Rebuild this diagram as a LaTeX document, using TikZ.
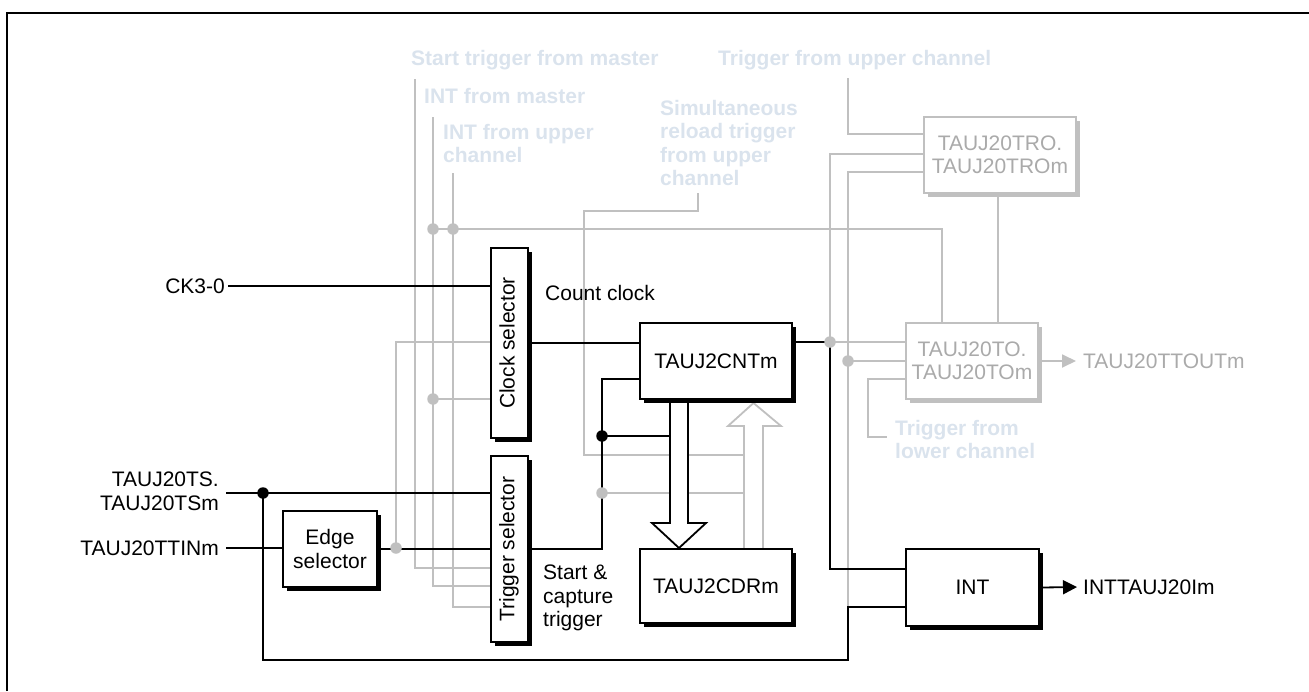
\documentclass[tikz,border=0pt]{standalone}
\usepackage{fontspec}
\setmainfont{Liberation Sans}
\usetikzlibrary{shadows,arrows.meta,calc}
\definecolor{gline}{RGB}{192,192,192}
\definecolor{glabel}{RGB}{218,227,237}
\definecolor{gtext}{RGB}{170,170,170}
\pgfdeclarelayer{bg}
\pgfsetlayers{bg,main}
\begin{document}
\begin{tikzpicture}[x=1pt,y=-1pt,
  font=\fontsize{21}{23.5}\selectfont,
  blk/.style={draw=black,line width=1.8pt,fill=white,inner sep=0pt,align=center,
     drop shadow={shadow xshift=3.5pt,shadow yshift=-3.5pt,opacity=1,fill=black}},
  gbox/.style={draw=gline,line width=1.8pt,fill=white,inner sep=0pt,text=gtext,align=center,
     drop shadow={shadow xshift=3.5pt,shadow yshift=-3.5pt,opacity=1,fill=gline}},
  wire/.style={line width=1.8pt,draw=black},
  gwire/.style={line width=1.8pt,draw=gline},
  glbl/.style={text=glabel,font=\fontsize{21}{23.5}\selectfont\bfseries,inner sep=0pt,align=left},
  lbl/.style={inner sep=0pt},
  bdot/.style={circle,fill=black,inner sep=0pt,minimum size=11.5pt},
  gdot/.style={circle,fill=gline,inner sep=0pt,minimum size=11.5pt},
]
\useasboundingbox (0,0) rectangle (1309,691);
\draw[line width=2pt] (7,691) -- (7,13) -- (1309,13);

% boxes
\node[blk,minimum width=37pt,minimum height=190pt] (clk) at (509.5,343) {};
\node[blk,minimum width=37pt,minimum height=186pt] (trg) at (509.5,549) {};
\node[blk,minimum width=94pt,minimum height=76pt] (edge) at (330,549) {Edge\\selector};
\node[blk,minimum width=152pt,minimum height=76pt] (cnt) at (716,361) {TAUJ2CNTm};
\node[blk,minimum width=152pt,minimum height=74pt] (cdr) at (716,586) {TAUJ2CDRm};
\node[blk,minimum width=133pt,minimum height=77pt] (int) at (972.5,587.5) {INT};
\node[gbox,minimum width=132pt,minimum height=76pt] (to) at (972,361) {TAUJ20TO.\\TAUJ20TOm};
\node[gbox,minimum width=152pt,minimum height=76pt] (tro) at (1000,155) {TAUJ20TRO.\\TAUJ20TROm};
\node[lbl,rotate=90] (clkT) at (507,343) {Clock selector};
\node[lbl,rotate=90] (trgT) at (509,549) {Trigger selector};

% labels
\node[lbl,anchor=east] (ck) at (225,286) {CK3-0};
\node[lbl,anchor=north east,align=right] (ts) at (219,472) {TAUJ20TS.\\TAUJ20TSm};
\node[lbl,anchor=east] (ttin) at (219,548) {TAUJ20TTINm};
\node[lbl,anchor=west] (cc) at (545,293) {Count clock};
\node[lbl,anchor=north west,align=left] (sct) at (543,565) {Start \&\\capture\\trigger};
\node[lbl,anchor=west] (intout) at (1083,587) {INTTAUJ20Im};
\node[lbl,anchor=west,text=gtext] (ttout) at (1083,361) {TAUJ20TTOUTm};

\node[glbl,anchor=north west] (lStm) at (411,50) {Start trigger from master};
\node[glbl,anchor=north west] (lIm) at (424,88) {INT from master};
\node[glbl,anchor=north west] (lIu) at (443,124) {INT from upper\\channel};
\node[glbl,anchor=north west] (lSim) at (660,100) {Simultaneous\\reload trigger\\from upper\\channel};
\node[glbl,anchor=north west] (lTu) at (718,50) {Trigger from upper channel};
\node[glbl,anchor=north west] (lTl) at (895,420) {Trigger from\\lower channel};

% coordinates
\coordinate (sStm) at (415,79);
\coordinate (sIm) at (433,117);
\coordinate (sIu) at (453,173);
\coordinate (jIm1) at (433,229);
\coordinate (jIu) at (453,229);
\coordinate (jIm2) at (433,399);
\coordinate (sSim) at (698,193);
\coordinate (sTu) at (848,78);
\coordinate (jEdge) at (396,548);
\coordinate (jTrg) at (602,493);
\coordinate (jB) at (830,342);
\coordinate (jC) at (848,361);
\coordinate (jInt2) at (848,607);
\coordinate (eTl) at (887,437);
\coordinate (sTs) at (226,493);
\coordinate (jTs) at (263,493);
\coordinate (jA) at (602,436);
\coordinate (cTurn) at (602,379);
\coordinate (bot) at (263,660);

\begin{pgfonlayer}{bg}
% gray wires
\draw[gwire] (sStm) |- (trg.west |- 0,568);
\draw[gwire] (sIm) |- (trg.west |- 0,586);
\draw[gwire] (sIu) |- (trg.west |- 0,607);
\draw[gwire] (jIm1) -| (to.north -| 942,0);
\draw[gwire] (jIm2) -- (jIm2 -| clk.west);
\draw[gwire] (jEdge) |- (clk.west |- 0,342);
\draw[gwire] (sSim) |- (584,211) |- (744,455);
\draw[gwire] (jTrg) -- (744,493);
\draw[gwire] (jB) -- (jB -| to.west);
\draw[gwire] (jB) |- (tro.west |- 0,154);
\draw[gwire] (jInt2) |- (tro.west |- 0,172);
\draw[gwire] (jC) -- (jC -| to.west);
\draw[gwire] (sTu) |- (tro.west |- 0,134);
\draw[gwire] (tro.south -| 998,0) -- (to.north -| 998,0);
\draw[gwire] (to.west |- 0,379) -| (868,437) -- (eTl);
\draw[gwire,-{Triangle[length=14pt,width=13pt]},shorten >=7pt] (to.east) -- (ttout.west);
\draw[gwire,fill=white] (744,549) -- (744,426) -- (728,426) -- (753.5,403) -- (781,426) -- (763,426) -- (763,549);
% black wires
\draw[wire] ([xshift=3pt]ck.east) -- (ck.east -| clk.west);
\draw[wire] (sTs) -- (sTs -| trg.west);
\draw[wire] ([xshift=7pt]ttin.east) -- (edge.west |- ttin.east);
\draw[wire] (edge.east) -- (edge.east -| trg.west);
\draw[wire] (jTs) -- (bot) -| (jInt2) -- (jInt2 -| int.west);
\draw[wire] (clk.east) -- (clk.east -| cnt.west);
\draw[wire] (trg.east) -| (cTurn) -- (cTurn -| cnt.west);
\draw[wire] (jA) -- (670,436);
\draw[wire] (cnt.east |- jB) -- (jB) |- (int.west |- 0,569);
\draw[wire,-{Triangle[length=14pt,width=14pt]},shorten >=6pt] (int.east) -- (intout.west);
\draw[wire,fill=white] (670,399) -- (670,523) -- (652,523) -- (679,548) -- (706,523) -- (688,523) -- (688,399);
% dots
\node[bdot] (dTs) at (jTs) {};
\node[bdot] (dA) at (jA) {};
\node[gdot] (dIm1) at (jIm1) {};
\node[gdot] (dIu) at (jIu) {};
\node[gdot] (dIm2) at (jIm2) {};
\node[gdot] (dEdge) at (jEdge) {};
\node[gdot] (dTrg) at (jTrg) {};
\node[gdot] (dB) at (jB) {};
\node[gdot] (dC) at (jC) {};
\end{pgfonlayer}
\end{tikzpicture}
\end{document}
